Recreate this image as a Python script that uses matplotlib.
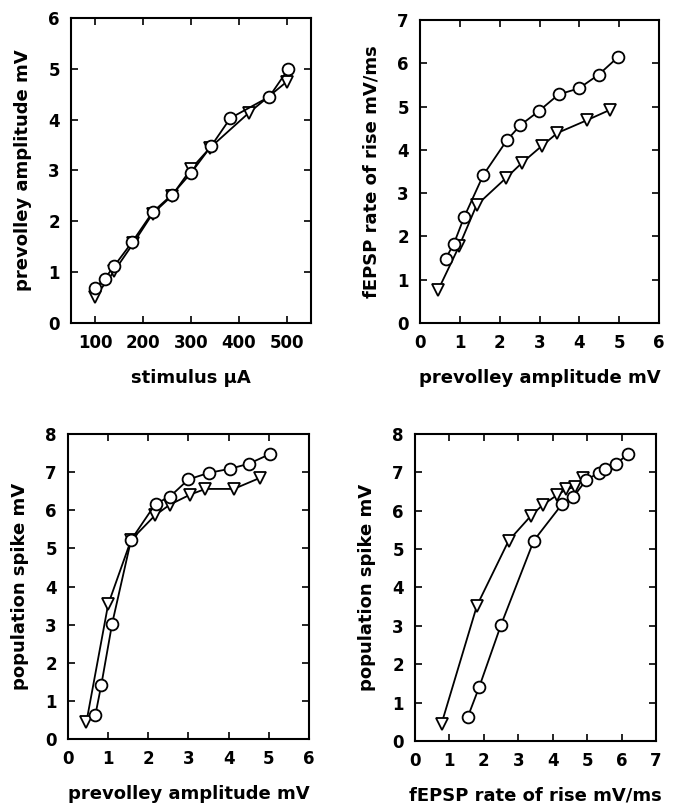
import matplotlib.pyplot as plt

plt.rcParams['font.family'] = ['DejaVu Sans']
plt.rcParams['font.weight'] = 'bold'

# panel A: stimulus vs prevolley amplitude
stim_circ = [100, 120, 140, 178, 220, 260, 300, 342, 382, 463, 503]
prev_circ = [0.68, 0.87, 1.12, 1.60, 2.18, 2.52, 2.95, 3.48, 4.03, 4.45, 5.0]
stim_tri = [100, 140, 180, 220, 260, 300, 340, 420, 500]
prev_tri = [0.51, 1.02, 1.57, 2.15, 2.50, 3.03, 3.45, 4.13, 4.75]

# panel B: prevolley amplitude vs fEPSP rate of rise
pv_circ_b = [0.64, 0.85, 1.11, 1.59, 2.18, 2.52, 2.99, 3.48, 3.99, 4.49, 4.98]
rise_circ_b = [1.48, 1.83, 2.45, 3.42, 4.22, 4.57, 4.90, 5.28, 5.42, 5.74, 6.15]
pv_tri_b = [0.46, 0.98, 1.42, 2.16, 2.55, 3.07, 3.45, 4.18, 4.76]
rise_tri_b = [0.77, 1.77, 2.72, 3.35, 3.69, 4.10, 4.39, 4.68, 4.92]

# panel C: prevolley amplitude vs population spike
pv_circ_c = [0.68, 0.83, 1.10, 1.57, 2.18, 2.54, 3.0, 3.5, 4.04, 4.5, 5.04]
spike_circ_c = [0.62, 1.42, 3.03, 5.22, 6.17, 6.36, 6.81, 6.98, 7.09, 7.22, 7.48]
pv_tri_c = [0.46, 1.0, 1.57, 2.17, 2.54, 3.04, 3.42, 4.13, 4.78]
spike_tri_c = [0.45, 3.53, 5.22, 5.87, 6.15, 6.41, 6.56, 6.56, 6.85]

# panel D: fEPSP rate of rise vs population spike
rise_circ_d = [1.53, 1.87, 2.50, 3.45, 4.27, 4.60, 4.98, 5.33, 5.53, 5.83, 6.20]
spike_circ_d = [0.62, 1.42, 3.03, 5.22, 6.17, 6.36, 6.81, 6.98, 7.09, 7.22, 7.48]
rise_tri_d = [0.77, 1.80, 2.72, 3.37, 3.71, 4.13, 4.40, 4.65, 4.89]
spike_tri_d = [0.45, 3.53, 5.22, 5.87, 6.15, 6.41, 6.56, 6.62, 6.85]

fig = plt.figure(figsize=(6.77, 8.06), dpi=100)

axes_pos = [
    [0.1049, 0.5993, 0.3545, 0.3784],
    [0.6204, 0.5993, 0.3530, 0.3759],
    [0.1004, 0.0831, 0.3560, 0.3784],
    [0.6130, 0.0806, 0.3560, 0.3810],
]

panels = [
    (stim_circ, prev_circ, stim_tri, prev_tri, (50, 550), [100, 200, 300, 400, 500],
     (0, 6), range(0, 7), 'stimulus μA', 'prevolley amplitude mV'),
    (pv_circ_b, rise_circ_b, pv_tri_b, rise_tri_b, (0, 6), range(0, 7),
     (0, 7), range(0, 8), 'prevolley amplitude mV', 'fEPSP rate of rise mV/ms'),
    (pv_circ_c, spike_circ_c, pv_tri_c, spike_tri_c, (0, 6), range(0, 7),
     (0, 8), range(0, 9), 'prevolley amplitude mV', 'population spike mV'),
    (rise_circ_d, spike_circ_d, rise_tri_d, spike_tri_d, (0, 7), range(0, 8),
     (0, 8), range(0, 9), 'fEPSP rate of rise mV/ms', 'population spike mV'),
]

for pos, p in zip(axes_pos, panels):
    xc, yc, xt, yt, xlim, xticks, ylim, yticks, xlab, ylab = p
    ax = fig.add_axes(pos)
    ax.plot(xt, yt, color='black', lw=1.3, marker='v', ms=8.5, mfc='white',
            mec='black', mew=1.3)
    ax.plot(xc, yc, color='black', lw=1.3, marker='o', ms=8.5, mfc='white',
            mec='black', mew=1.3)
    ax.set_xlim(*xlim)
    ax.set_ylim(*ylim)
    ax.set_xticks(list(xticks))
    ax.set_yticks(list(yticks))
    ax.tick_params(direction='in', top=True, right=True, length=5, width=1.2,
                   labelsize=12, pad=8)
    for lab in ax.get_xticklabels() + ax.get_yticklabels():
        lab.set_fontweight('bold')
    for s in ax.spines.values():
        s.set_linewidth(1.5)
    ax.set_xlabel(xlab, fontsize=13, fontweight='bold', labelpad=12)
    ax.set_ylabel(ylab, fontsize=13, fontweight='bold', labelpad=12)

plt.savefig('out.png', dpi=100)
